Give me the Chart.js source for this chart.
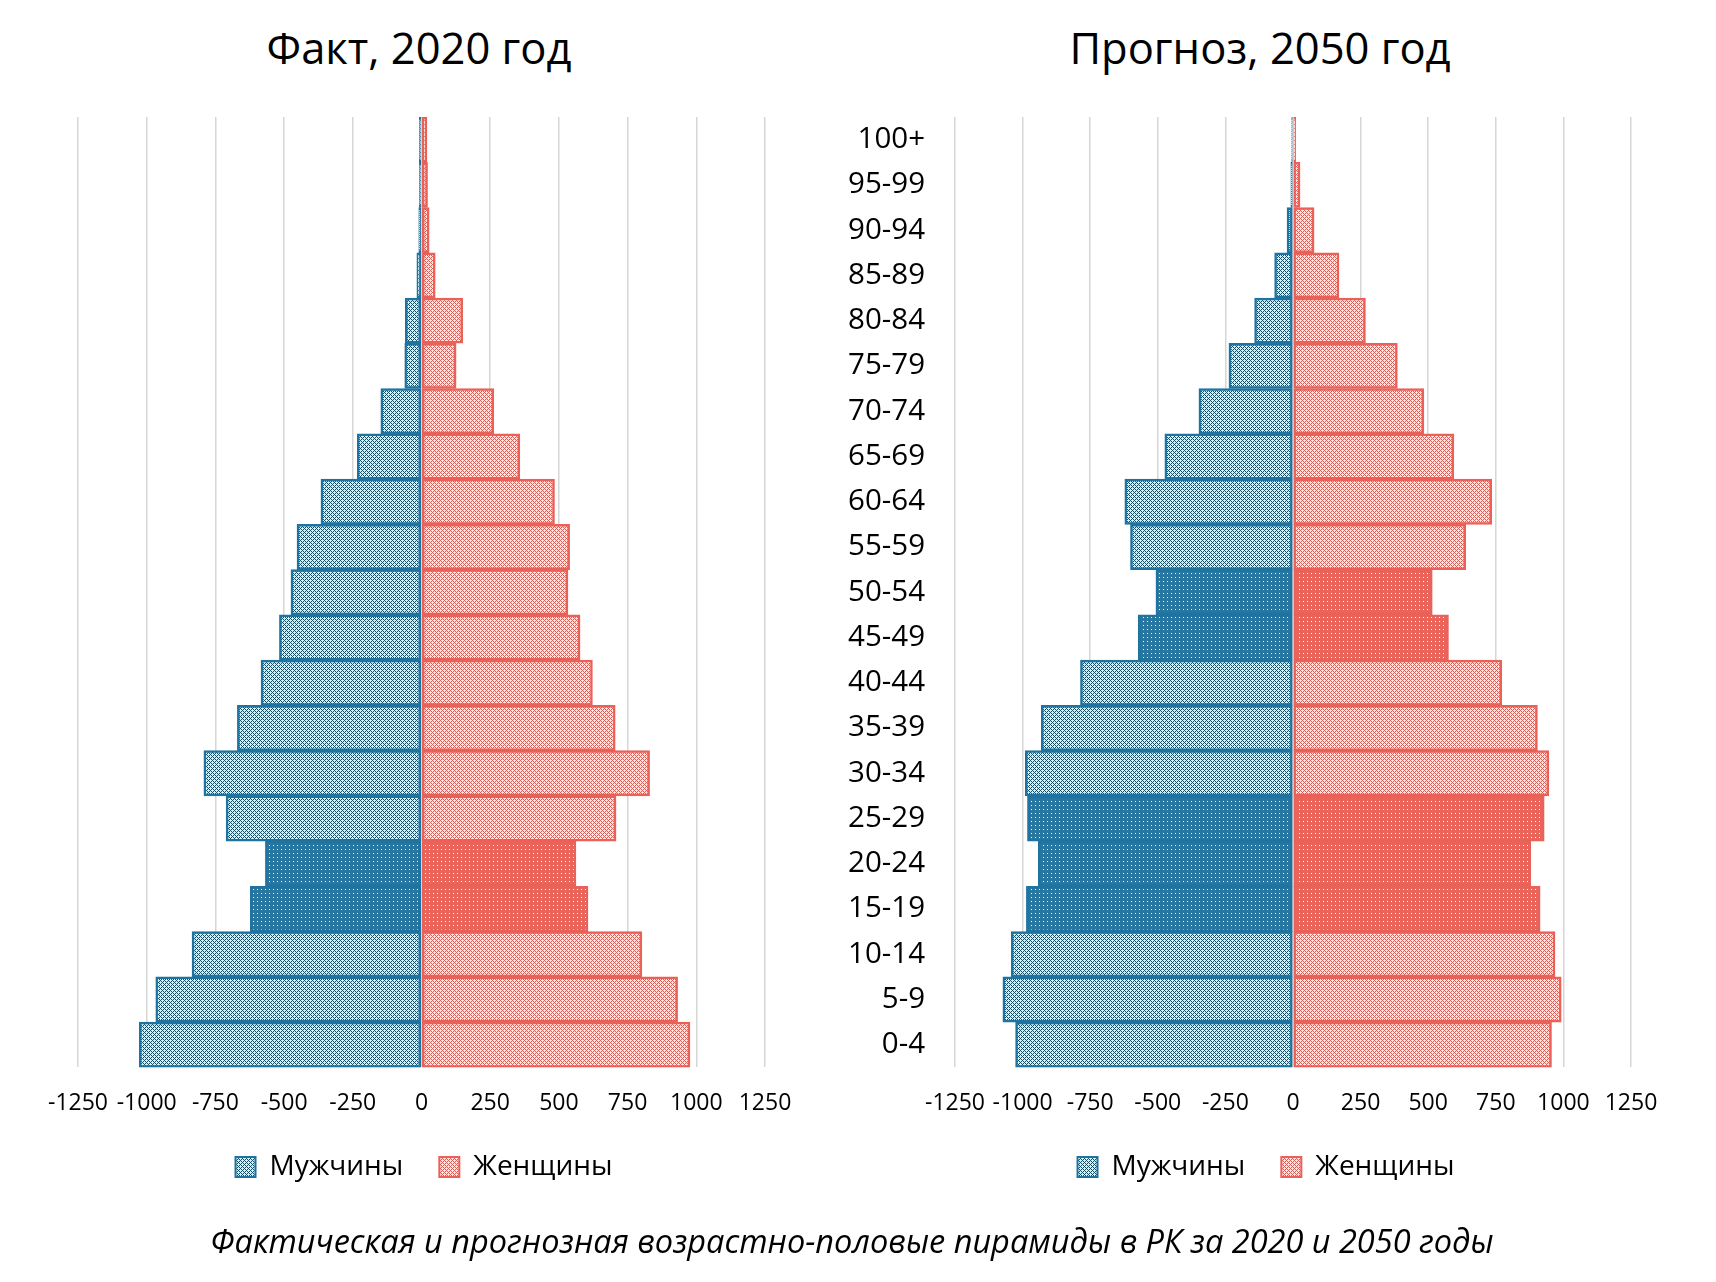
<!DOCTYPE html>
<html>
<head>
<meta charset="utf-8">
<script src="https://cdn.jsdelivr.net/npm/chart.js@4/dist/chart.umd.min.js"></script>
<style>
html,body{margin:0;padding:0;background:#fff;}
body{width:1716px;height:1282px;position:relative;overflow:hidden;font-family:'Open Sans',sans-serif;color:#000;}
.title{position:absolute;top:26px;font-size:43.5px;line-height:1;transform:translateX(-50%);white-space:nowrap;}
#wrap1{position:absolute;left:0;top:0;}
#wrap2{position:absolute;left:830px;top:0;}
#caption{position:absolute;left:852px;top:1225px;transform:translateX(-50%);font-style:italic;font-size:32.5px;line-height:1;white-space:nowrap;}
</style>
</head>
<body>
<div class="title" style="left:419px;">Факт, 2020 год</div>
<div class="title" style="left:1260px;">Прогноз, 2050 год</div>
<div id="wrap1"><canvas id="c1" width="830" height="1221"></canvas></div>
<div id="wrap2"><canvas id="c2" width="886" height="1221"></canvas></div>
<div id="caption">Фактическая и прогнозная возрастно-половые пирамиды в РК за 2020 и 2050 годы</div>
<script>
// ---- data ----
const ageGroups = ['100+','95-99','90-94','85-89','80-84','75-79','70-74','65-69','60-64','55-59','50-54','45-49','40-44','35-39','30-34','25-29','20-24','15-19','10-14','5-9','0-4'];
const male2020   = [-8, -8, -10, -17, -59, -61, -148, -234, -366, -453, -475, -517, -584, -670, -792, -711, -568, -623, -835, -967, -1027];
const female2020 = [20, 22, 28, 50, 150, 126, 263, 358, 484, 539, 533, 577, 622, 705, 830, 708, 562, 606, 802, 932, 977];
const male2050   = [-5, -8, -22, -68, -142, -237, -348, -474, -622, -601, -507, -572, -786, -931, -990, -982, -942, -986, -1042, -1073, -1026];
const female2050 = [10, 26, 78, 170, 268, 386, 484, 595, 735, 639, 515, 575, 772, 904, 946, 929, 879, 914, 969, 992, 956];
const highlighted2020 = ['20-24','15-19'];
const highlighted2050 = ['50-54','45-49','25-29','20-24','15-19'];
const xTicks = [-1250,-1000,-750,-500,-250,0,250,500,750,1000,1250];
const seriesNames = ['Мужчины','Женщины'];

// ---- styles ----
const BLUE = '#1f73a0', RED = '#e8625a';
function makePattern(bg, fg, type){
  const c = document.createElement('canvas'); c.width = 4; c.height = 4;
  const g = c.getContext('2d');
  g.fillStyle = bg; g.fillRect(0,0,4,4); g.fillStyle = fg;
  for (let x=0;x<4;x++) for (let y=0;y<4;y++){
    const on = type==='hatch' ? ((x+y)%4===0 || ((x-y)+4)%4===0) : (x===1 && y===1);
    if (on) g.fillRect(x,y,1,1);
  }
  return g.createPattern(c,'repeat');
}
const maleHatch = makePattern('#d3f0f5', '#134f6b', 'hatch');
const femaleHatch = makePattern('#fde6e3', '#df5a51', 'hatch');
const maleDots = makePattern('#2677a2', '#ffffff', 'dots');
const femaleDots = makePattern('#ec6459', '#ffffff', 'dots');

const legendShift = {
  id: 'legendShift',
  afterLayout(chart, args, opts) {
    const L = chart.legend;
    if (!L) return;
    if (opts.center != null) {
      const d = opts.center - (L.left + L.right) / 2;
      L.left += d; L.right += d;
    }
    if (opts.dy) { L.top += opts.dy; L.bottom += opts.dy; }
  }
};

function build(id, male, female, highlighted, showY, padL, padR, legendCenter){
  const isHi = i => highlighted.includes(ageGroups[i]);
  const yOpts = {stacked: true, display: showY,
            ticks: {color: '#000', padding: 30, font: {family: 'Open Sans', size: 29.5}},
            grid: {display: false, drawTicks: false},
            border: {display: false}};
  if (showY) yOpts.afterFit = s => { s.width = 110; };
  new Chart(document.getElementById(id), {
    type: 'bar',
    plugins: [legendShift],
    data: {
      labels: ageGroups,
      datasets: [
        {label: seriesNames[0], data: male,
         backgroundColor: c => (c.type==='data' && isHi(c.dataIndex)) ? maleDots : maleHatch,
         borderColor: BLUE, borderWidth: 2.5, borderSkipped: false,
         barPercentage: 1, categoryPercentage: 1},
        {label: seriesNames[1], data: female,
         backgroundColor: c => (c.type==='data' && isHi(c.dataIndex)) ? femaleDots : femaleHatch,
         borderColor: RED, borderWidth: 2.5, borderSkipped: false,
         barPercentage: 1, categoryPercentage: 1}
      ]
    },
    options: {
      indexAxis: 'y', responsive: false, animation: false, devicePixelRatio: 1,
      layout: {padding: {left: padL, right: padR, top: 117, bottom: 8}},
      scales: {
        x: {stacked: true, min: xTicks[0], max: xTicks[xTicks.length-1],
            afterBuildTicks: s => { s.ticks = xTicks.map(v => ({value: v})); },
            ticks: {autoSkip: false, maxRotation: 0, color: '#000', padding: 22,
                    callback: v => String(v),
                    font: {family: 'Open Sans', size: 23}},
            grid: {color: '#d6d6d6', lineWidth: 1.5, drawTicks: false},
            border: {display: false}},
        y: yOpts
      },
      plugins: {
        legendShift: {center: legendCenter, dy: -22},
        title: {display: false},
        tooltip: {enabled: false},
        legend: {position: 'bottom',
          labels: {boxWidth: 20, boxHeight: 20, padding: 36, color: '#000',
            font: {family: 'Open Sans', size: 28},
            generateLabels: chart => chart.data.datasets.map((ds, i) => ({
              text: ds.label, fillStyle: i===0 ? maleHatch : femaleHatch,
              strokeStyle: i===0 ? BLUE : RED, lineWidth: 2, hidden: false,
              datasetIndex: i, fontColor: '#000'}))
          }}
      }
    }
  });
}
build('c1', male2020, female2020, highlighted2020, false, 78, 65, 424);
build('c2', male2050, female2050, highlighted2050, true, 15, 85, 436);
</script>
</body>
</html>
